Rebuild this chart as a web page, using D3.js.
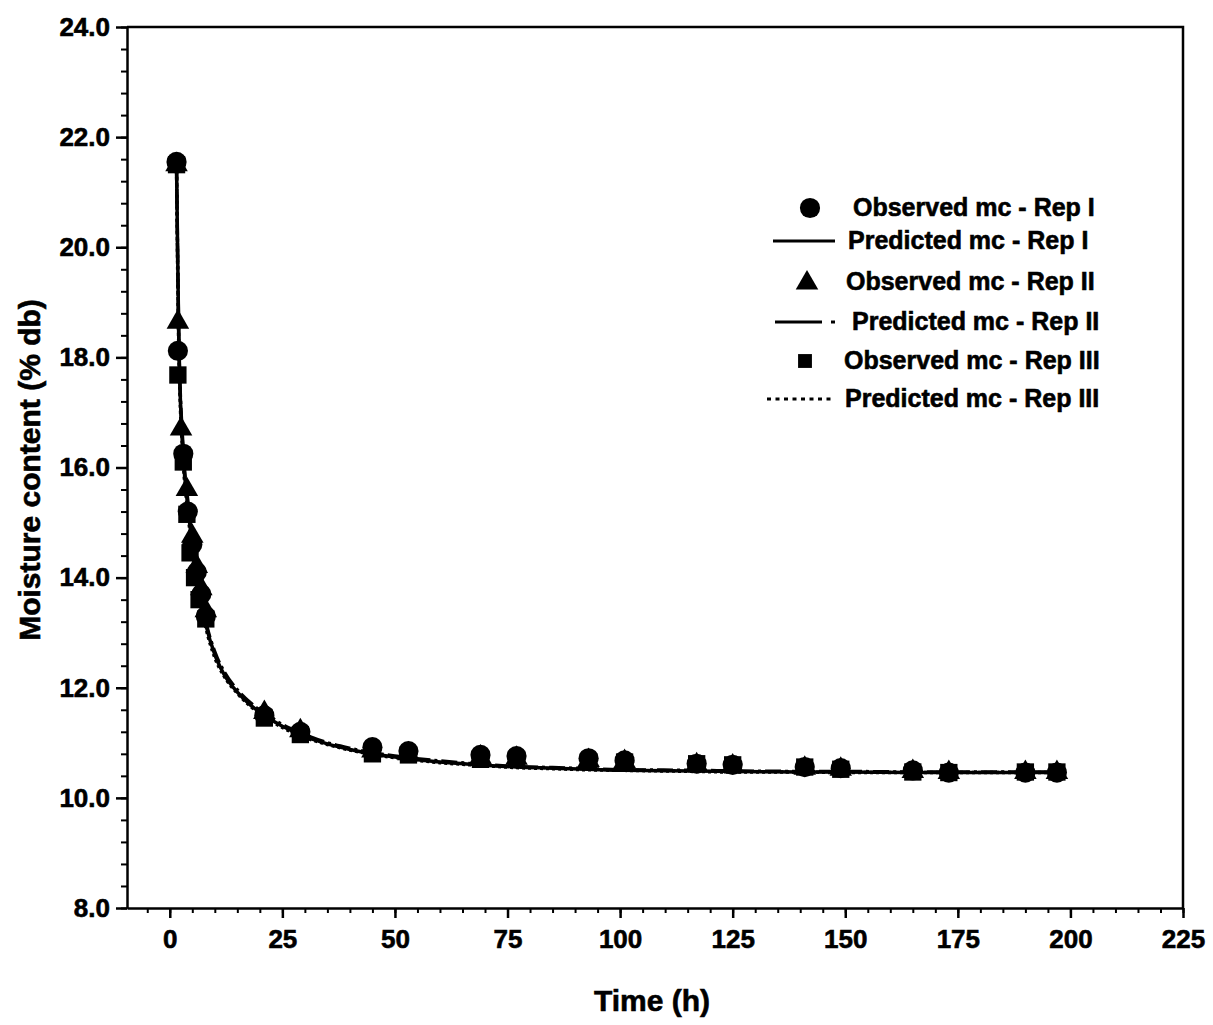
<!DOCTYPE html>
<html>
<head>
<meta charset="utf-8">
<script src="https://cdn.jsdelivr.net/npm/d3@7"></script>
<style>
  body { margin: 0; background: #fff; }
  text { font-family: "Liberation Sans", Arial, sans-serif; font-weight: bold; fill: #000; stroke: #000; stroke-width: 0.6px; }
</style>
</head>
<body>
<script>
// observed moisture content (% db) per replicate
const obsTimeI = [1.5, 1.8, 3, 4, 5, 6, 7, 8, 21, 29, 45, 53, 69, 77, 93, 101, 117, 125, 141, 149, 165, 173, 190, 197];
const obsMcI = [21.55, 18.12, 16.25, 15.2, 14.6, 14.1, 13.7, 13.3, 11.5, 11.2, 10.92, 10.85, 10.78, 10.76, 10.72, 10.68, 10.62, 10.6, 10.56, 10.54, 10.5, 10.46, 10.46, 10.46];
const obsTimeII = [1.5, 1.8, 2.5, 3.8, 5, 6, 7, 8, 21, 29, 45, 53, 69, 77, 93, 101, 117, 125, 141, 149, 165, 173, 190, 197];
const obsMcII = [21.5, 18.64, 16.7, 15.6, 14.75, 14.2, 13.8, 13.4, 11.55, 11.22, 10.85, 10.8, 10.74, 10.72, 10.68, 10.66, 10.6, 10.58, 10.54, 10.52, 10.48, 10.46, 10.46, 10.46];
const obsTimeIII = [1.5, 1.8, 3, 3.8, 4.5, 5.5, 6.5, 8, 21, 29, 45, 53, 69, 77, 93, 101, 117, 125, 141, 149, 165, 173, 190, 197];
const obsMcIII = [21.5, 17.68, 16.1, 15.15, 14.45, 14.0, 13.6, 13.25, 11.45, 11.15, 10.8, 10.78, 10.7, 10.7, 10.66, 10.65, 10.62, 10.6, 10.56, 10.52, 10.47, 10.46, 10.47, 10.47];

// predicted moisture content
const predTime = [1.5, 2, 3, 4, 5, 6, 7, 8, 10, 12, 15, 18, 21, 25, 29, 35, 40, 45, 53, 60, 69, 77, 85, 93, 101, 117, 125, 141, 149, 165, 173, 190, 198];
const predMcI = [21.5, 18.3, 16.2, 15.3, 14.6, 14.05, 13.55, 13.15, 12.6, 12.25, 11.92, 11.68, 11.5, 11.3, 11.15, 10.98, 10.88, 10.8, 10.71, 10.65, 10.6, 10.56, 10.54, 10.52, 10.5, 10.49, 10.48, 10.47, 10.47, 10.46, 10.46, 10.46, 10.46];
const predMcII = [21.5, 18.4, 16.3, 15.4, 14.7, 14.12, 13.62, 13.2, 12.65, 12.3, 11.96, 11.72, 11.53, 11.33, 11.18, 11.0, 10.9, 10.82, 10.73, 10.67, 10.61, 10.57, 10.55, 10.53, 10.51, 10.5, 10.49, 10.48, 10.48, 10.47, 10.47, 10.47, 10.47];
const predMcIII = [21.5, 18.2, 16.1, 15.2, 14.5, 13.98, 13.5, 13.1, 12.55, 12.22, 11.9, 11.66, 11.48, 11.28, 11.13, 10.97, 10.87, 10.79, 10.7, 10.64, 10.59, 10.55, 10.53, 10.51, 10.5, 10.48, 10.47, 10.47, 10.46, 10.46, 10.46, 10.46, 10.46];

const xTicks = [0, 25, 50, 75, 100, 125, 150, 175, 200, 225];
const yTicks = [8, 10, 12, 14, 16, 18, 20, 22, 24];
const legendLabels = ["Observed mc - Rep I", "Predicted mc - Rep I", "Observed mc - Rep II",
  "Predicted mc - Rep II", "Observed mc - Rep III", "Predicted mc - Rep III"];

const svg = d3.select("body").append("svg").attr("width", 1213).attr("height", 1025);

const x = d3.scaleLinear().domain([-9.5, 225]).range([127, 1183]);
const y = d3.scaleLinear().domain([8, 24]).range([908, 27]);

/* ** AXES ** */
const xMinor = d3.range(-5, 226, 5);
const yMinor = d3.range(8, 24.01, 0.4);

svg.append("g").attr("transform", "translate(0,908)")
  .call(d3.axisBottom(x).tickValues(xMinor).tickFormat("").tickSize(5).tickSizeOuter(0))
  .call(g => g.selectAll("line").attr("stroke-width", 2));
svg.append("g").attr("class", "x-axis").attr("transform", "translate(0,908)")
  .call(d3.axisBottom(x).tickValues(xTicks).tickSize(10).tickSizeOuter(0).tickPadding(12))
  .call(g => g.select(".domain").attr("stroke-width", 2.5))
  .call(g => g.selectAll("line").attr("stroke-width", 2.5))
  .call(g => g.selectAll("text").attr("font-size", 26).attr("font-family", null));

svg.append("g").attr("transform", "translate(127,0)")
  .call(d3.axisLeft(y).tickValues(yMinor).tickFormat("").tickSize(6).tickSizeOuter(0))
  .call(g => g.selectAll("line").attr("stroke-width", 2));
svg.append("g").attr("class", "y-axis").attr("transform", "translate(127,0)")
  .call(d3.axisLeft(y).tickValues(yTicks).tickFormat(d3.format(".1f")).tickSize(11).tickSizeOuter(0).tickPadding(6))
  .call(g => g.select(".domain").attr("stroke-width", 2.5))
  .call(g => g.selectAll("line").attr("stroke-width", 2.5))
  .call(g => g.selectAll("text").attr("font-size", 26).attr("font-family", null));

// top and right frame
svg.append("path").attr("d", `M127,27H1183V908`).attr("fill", "none").attr("stroke", "#000").attr("stroke-width", 2.5);

svg.append("text").text("Time (h)").attr("x", 652).attr("y", 1011).attr("text-anchor", "middle").attr("font-size", 30);
svg.append("text").text("Moisture content (% db)").attr("text-anchor", "middle").attr("font-size", 30)
  .attr("transform", "translate(40,470) rotate(-90)");

/* ** PREDICTED LINES ** */
const line = d3.line().x(d => x(d[0])).y(d => y(d[1])).curve(d3.curveMonotoneX);
const preds = [
  { v: predMcI, dash: null },
  { v: predMcII, dash: "16,4,3,4" },
  { v: predMcIII, dash: "3,3" }
];
preds.forEach(p => {
  svg.append("path").datum(predTime.map((t, i) => [t, p.v[i]]))
    .attr("d", line).attr("fill", "none").attr("stroke", "#000").attr("stroke-width", 3.5)
    .attr("stroke-dasharray", p.dash);
});

/* ** OBSERVED POINTS ** */
const sym = {
  circle: d3.symbol().type(d3.symbolCircle).size(320),
  triangle: d3.symbol().type(d3.symbolTriangle).size(220),
  square: d3.symbol().type(d3.symbolSquare).size(300)
};
const obs = [
  { t: obsTimeI, v: obsMcI, s: "circle" },
  { t: obsTimeII, v: obsMcII, s: "triangle" },
  { t: obsTimeIII, v: obsMcIII, s: "square" }
];
obs.forEach(o => {
  svg.append("g").selectAll("path").data(o.t.map((t, i) => [t, o.v[i]])).join("path")
    .attr("d", sym[o.s]).attr("fill", "#000")
    .attr("transform", d => `translate(${x(d[0])},${y(d[1])})`);
});

/* ** LEGEND ** */
const legY = [208, 241, 282, 322, 361, 399];
const legX = [853, 848, 846, 852, 844, 845];
const lg = svg.append("g");
lg.append("path").attr("d", sym.circle).attr("transform", `translate(810,${legY[0]})`);
lg.append("line").attr("x1", 773).attr("x2", 835).attr("y1", legY[1]).attr("y2", legY[1]).attr("stroke", "#000").attr("stroke-width", 3);
lg.append("path").attr("d", sym.triangle).attr("transform", `translate(807,${legY[2] + 1})`);
lg.append("line").attr("x1", 775).attr("x2", 837).attr("y1", legY[3]).attr("y2", legY[3]).attr("stroke", "#000").attr("stroke-width", 3)
  .attr("stroke-dasharray", "47,9,4,20");
lg.append("path").attr("d", sym.square).attr("transform", `translate(805,${legY[4]}) scale(0.8)`);
lg.append("line").attr("x1", 767).attr("x2", 831).attr("y1", legY[5]).attr("y2", legY[5]).attr("stroke", "#000").attr("stroke-width", 3)
  .attr("stroke-dasharray", "4,4.5");
lg.selectAll("text").data(legendLabels).join("text")
  .text(d => d).attr("x", (d, i) => legX[i]).attr("y", (d, i) => legY[i] + 8).attr("font-size", 25);
</script>
</body>
</html>
